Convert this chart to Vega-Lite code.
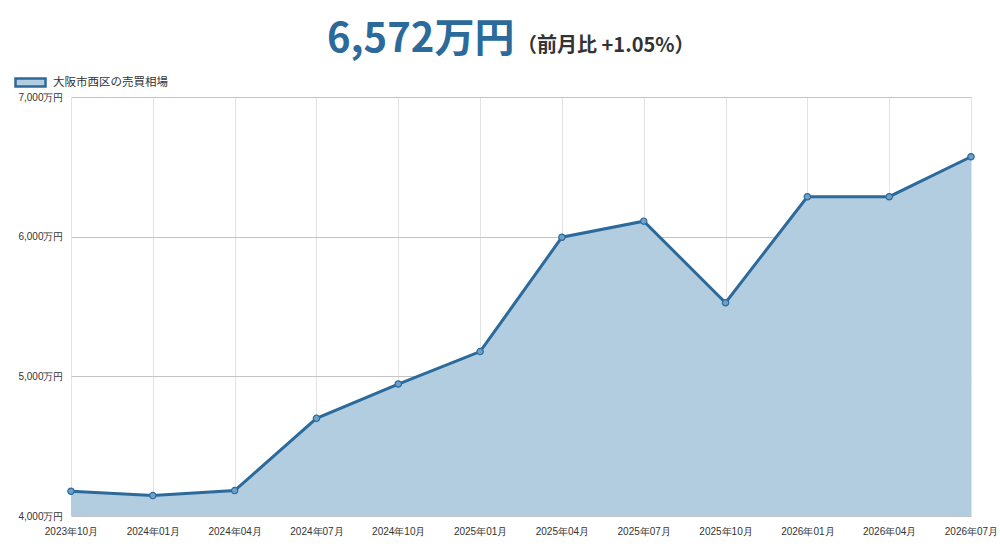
{
  "$schema": "https://vega.github.io/schema/vega-lite/v6.json",
  "width": 900,
  "height": 419,
  "autosize": "none",
  "padding": {"left": 71, "top": 97, "right": 29, "bottom": 32},
  "background": "white",
  "title": {
    "text": "6,572万円",
    "subtitle": "\u200b\u3000\u3000\u3000\u3000\u3000\u3000\u3000\u3000\u3000\u3000（前月比 +1.05%）",
    "anchor": "start",
    "frame": "group",
    "dx": 256,
    "offset": 6,
    "font": "Noto Sans CJK JP",
    "fontSize": 40,
    "fontWeight": "bold",
    "color": "#2b6a9b",
    "subtitleFont": "Noto Sans CJK JP",
    "subtitleFontSize": 20,
    "subtitleFontWeight": "bold",
    "subtitleColor": "#333333",
    "subtitlePadding": -24
  },
  "data": {
    "values": [
      {"month": "2023年10月", "price": 4177, "series": "大阪市西区の売買相場"},
      {"month": "2024年01月", "price": 4146, "series": "大阪市西区の売買相場"},
      {"month": "2024年04月", "price": 4182, "series": "大阪市西区の売買相場"},
      {"month": "2024年07月", "price": 4699, "series": "大阪市西区の売買相場"},
      {"month": "2024年10月", "price": 4945, "series": "大阪市西区の売買相場"},
      {"month": "2025年01月", "price": 5177, "series": "大阪市西区の売買相場"},
      {"month": "2025年04月", "price": 5996, "series": "大阪市西区の売買相場"},
      {"month": "2025年07月", "price": 6111, "series": "大阪市西区の売買相場"},
      {"month": "2025年10月", "price": 5527, "series": "大阪市西区の売買相場"},
      {"month": "2026年01月", "price": 6286, "series": "大阪市西区の売買相場"},
      {"month": "2026年04月", "price": 6286, "series": "大阪市西区の売買相場"},
      {"month": "2026年07月", "price": 6572, "series": "大阪市西区の売買相場"}
    ]
  },
  "encoding": {
    "x": {
      "field": "month",
      "type": "ordinal",
      "sort": null,
      "scale": {"type": "point", "padding": 0},
      "axis": {
        "title": null,
        "labelAngle": 0,
        "labelFont": "Liberation Sans",
        "labelFontSize": 10,
        "labelColor": "#333333",
        "labelPadding": 10,
        "domain": false,
        "ticks": false,
        "grid": true,
        "gridColor": "#e3e3e3",
        "gridWidth": 1
      }
    },
    "y": {
      "field": "price",
      "type": "quantitative",
      "scale": {"domain": [4000, 7000], "nice": false, "zero": false},
      "axis": {
        "title": null,
        "values": [4000, 5000, 6000, 7000],
        "labelExpr": "format(datum.value, ',') + '万円'",
        "labelFont": "Liberation Sans",
        "labelFontSize": 10,
        "labelColor": "#333333",
        "labelPadding": 8,
        "domain": false,
        "ticks": false,
        "grid": true,
        "gridColor": "#c4c4c4",
        "gridWidth": 1
      }
    }
  },
  "layer": [
    {
      "mark": {"type": "area", "color": "#b3cde0", "opacity": 1, "clip": true},
      "encoding": {
        "fill": {
          "field": "series",
          "type": "nominal",
          "scale": {"range": ["#b3cde0"]},
          "legend": {
            "title": null,
            "orient": "none",
            "legendX": -57,
            "legendY": -31,
            "symbolType": "M-1,-0.27H1V0.27H-1Z",
            "symbolSize": 900,
            "symbolStrokeColor": "#2b6a9b",
            "symbolStrokeWidth": 2.5,
            "symbolOpacity": 1,
            "labelFont": "Noto Sans CJK JP",
            "labelFontSize": 11.5,
            "labelColor": "#333333",
            "labelOffset": 6
          }
        }
      }
    },
    {
      "mark": {"type": "line", "color": "#2b6a9b", "strokeWidth": 3},
      "encoding": {}
    },
    {
      "mark": {"type": "point", "filled": true, "fill": "#6f9fcb", "stroke": "#2b6a9b", "strokeWidth": 1.2, "size": 40, "opacity": 1},
      "encoding": {}
    }
  ],
  "config": {
    "view": {"stroke": null}
  }
}
